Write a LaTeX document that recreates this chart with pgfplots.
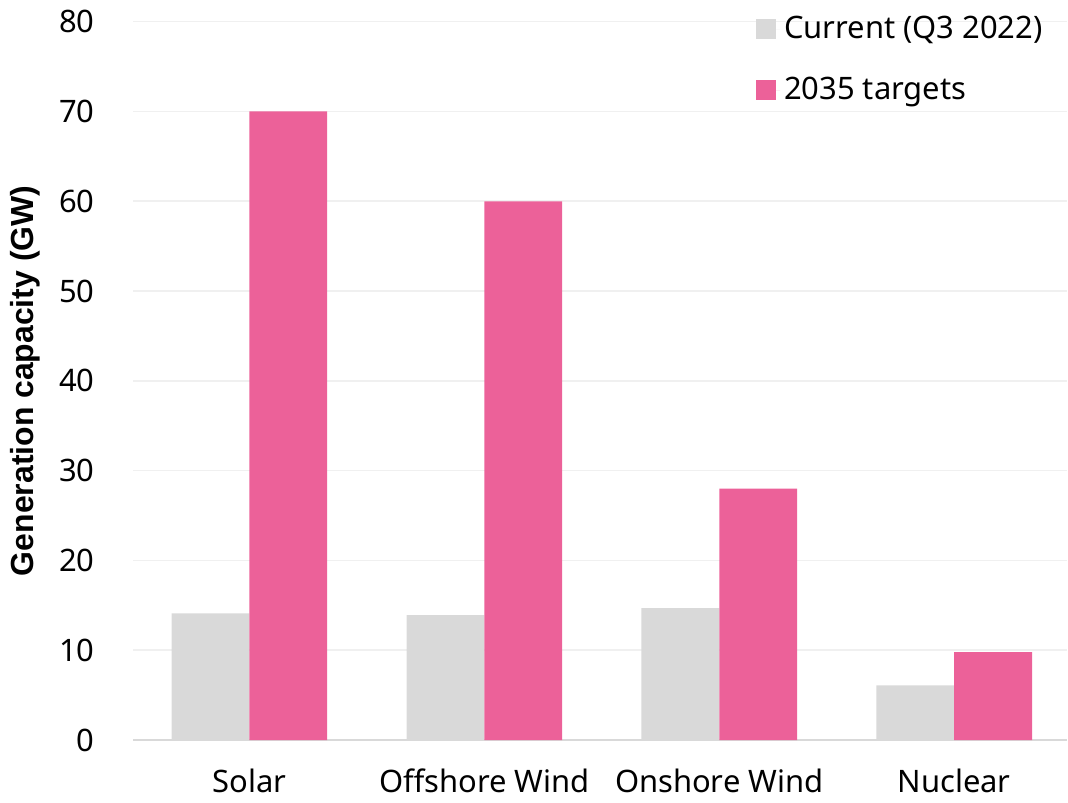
\documentclass[border=0pt]{standalone}
\usepackage{pgfplots}
\pgfplotsset{compat=1.18}
\usepackage{fontspec}
\setmainfont{Noto Sans}
\newfontfamily\labfont{Liberation Sans}
\definecolor{curgray}{HTML}{D9D9D9}
\definecolor{tgtpink}{HTML}{EC6199}
\definecolor{gridgray}{HTML}{F0F0F0}
\begin{document}
\fontsize{15.5}{18}\selectfont
\begin{tikzpicture}
\begin{axis}[
  scale only axis,
  width=468pt, height=360pt,
  ymin=0, ymax=80,
  xmin=-0.495, xmax=3.48,
  ytick={0,10,...,80},
  xtick=data,
  xticklabels={Solar, Offshore Wind, Onshore Wind, Nuclear},
  ybar=0pt, bar width=39pt,
  axis lines*=left,
  y axis line style={draw=none},
  x axis line style={curgray, line width=1pt, -},
  major tick length=0pt,
  ymajorgrids,
  grid style={gridgray, line width=0.8pt},
  tick label style={font=\fontsize{15.5}{18}\selectfont},
  yticklabel style={xshift=-14pt},
  xticklabel style={yshift=-9pt},
  /pgf/number format/assume math mode=true,
  ylabel={Generation capacity (GW)},
  ylabel style={font=\fontsize{16}{19}\selectfont\labfont\bfseries, yshift=-1pt},
  legend style={draw=none, fill=none, at={(0.985,1.02)}, anchor=north east,
    row sep=13pt, font=\fontsize{15.5}{18}\selectfont, cells={anchor=west}},
  legend image code/.code={\path (0pt,0pt) -- (12pt,0pt);\fill[#1] (0pt,-5pt) rectangle (10pt,5pt);},
]
\addplot[fill=curgray, draw=none] coordinates {(0,14.1) (1,13.9) (2,14.7) (3,6.1)};
\addplot[fill=tgtpink, draw=none] coordinates {(0,70) (1,60) (2,28) (3,9.8)};
\legend{Current (Q3 2022), 2035 targets}
\end{axis}
\end{tikzpicture}
\end{document}
